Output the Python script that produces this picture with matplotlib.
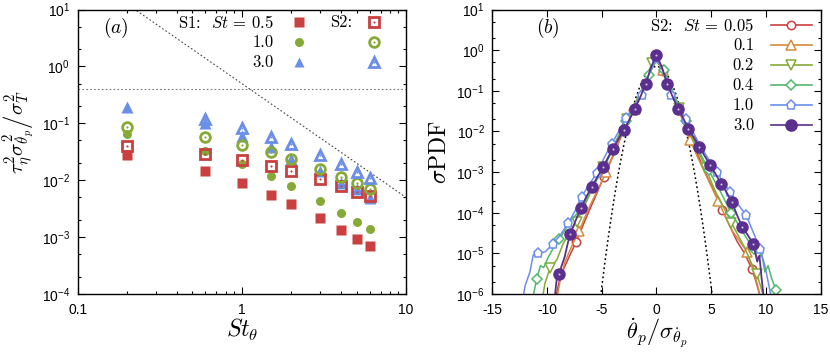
import numpy as np
import matplotlib
matplotlib.use("Agg")
import matplotlib.pyplot as plt
from matplotlib.ticker import LogLocator, MultipleLocator, NullFormatter, FuncFormatter

plt.rcParams["font.family"] = "sans-serif"
plt.rcParams["font.sans-serif"] = ["Liberation Sans", "DejaVu Sans"]
plt.rcParams["mathtext.fontset"] = "cm"

# ── Panel (a): rotational acceleration variance vs St_theta ───────────────────
ST_THETA = [0.2, 0.6, 1.0, 1.5, 2.0, 3.0, 4.0, 5.0, 6.0]

S1_ST05 = [0.028, 0.0143, 0.0089, 0.0056, 0.0038, 0.00214, 0.00135, 0.00093, 0.00069]
S1_ST10 = [0.066, 0.033, 0.019, 0.0118, 0.0080, 0.0043, 0.0027, 0.00186, 0.00137]
S1_ST30 = [0.19, 0.10, 0.060, 0.039, 0.024, 0.0148, 0.0088, 0.0070, 0.0048]

S2_ST05 = [0.040, 0.029, 0.0226, 0.0177, 0.0143, 0.0105, 0.0080, 0.0063, 0.0053]
S2_ST10 = [0.086, 0.058, 0.042, 0.031, 0.0235, 0.0159, 0.0115, 0.0091, 0.0070]
S2_ST30 = [np.nan, 0.117, 0.083, 0.057, 0.043, 0.0277, 0.019, 0.014, 0.011]

# reference lines
REF_LEVEL = 0.4
REF_SLOPE_X = [0.2, 10.0]
REF_SLOPE_Y = [12.5, 0.005]

# ── Panel (b): PDFs of the normalised rotation rate, case S2 ──────────────────
ST005_X = [-9.2, -8.9, -8.6, -8.0, -7.35, -6.7, -6.1, -5.45, -4.83, -4.15, -3.5,
           -2.8, -2.1, -1.45, -0.75, -0.1, 0.6, 1.25, 1.9, 2.55, 3.2, 3.9, 4.6,
           5.3, 6.0, 6.65, 7.35, 8.05, 8.7, 9.1, 9.5]
ST005_Y = [8e-7, 2.0e-6, 3.5e-6, 8e-6, 1.9e-5, 5.0e-5, 1.2e-4, 3.0e-4, 7.4e-4,
           2.0e-3, 5.0e-3, 1.4e-2, 3.4e-2, 7.4e-2, 0.22, 0.63, 0.31, 0.10, 0.040,
           0.017, 6.3e-3, 2.2e-3, 8.0e-4, 3.2e-4, 1.2e-4, 5.0e-5, 2.0e-5, 1.0e-5,
           4.2e-6, 2.0e-6, 8e-7]
ST005_MARK = list(range(4, 29, 4))

ST01_X = [-9.1, -8.75, -8.35, -7.7, -7.08, -6.45, -5.85, -5.2, -4.6, -3.95, -3.3,
          -2.65, -2.0, -1.35, -0.7, -0.05, 0.55, 1.2, 1.85, 2.45, 3.08, 3.7, 4.35,
          5.0, 5.65, 6.3, 6.95, 7.6, 8.28, 8.8, 9.2, 9.5]
ST01_Y = [8e-7, 2.5e-6, 6.3e-6, 1.6e-5, 3.5e-5, 8.9e-5, 2.0e-4, 4.5e-4, 1.0e-3,
          2.5e-3, 7.1e-3, 1.66e-2, 3.5e-2, 8.5e-2, 0.25, 0.60, 0.32, 0.11, 0.043,
          0.017, 6.2e-3, 2.5e-3, 1.05e-3, 4.5e-4, 1.9e-4, 8.0e-5, 3.5e-5, 2.0e-5,
          1.1e-5, 4.0e-6, 1.8e-6, 8e-7]
ST01_MARK = list(range(4, 29, 4))

ST02_X = [-10.4, -10.2, -9.73, -9.1, -8.5, -7.9, -7.3, -6.7, -6.1, -5.5, -4.9,
          -4.35, -3.8, -3.25, -2.7, -2.1, -1.55, -1.0, -0.44, 0.2, 0.85, 1.5, 2.1,
          2.7, 3.3, 3.9, 4.5, 5.1, 5.7, 6.3, 6.85, 7.45, 8.05, 8.6, 9.16, 9.5, 9.8]
ST02_Y = [8e-7, 1.8e-6, 4.3e-6, 7.0e-6, 1.8e-5, 3.2e-5, 6.0e-5, 1.26e-4, 2.8e-4,
          6.3e-4, 1.3e-3, 2.5e-3, 5.2e-3, 1.05e-2, 2.0e-2, 4.2e-2, 8.3e-2, 0.166,
          0.49, 0.50, 0.19, 0.079, 0.038, 0.0166, 7.1e-3, 2.8e-3, 1.26e-3, 5.0e-4,
          2.2e-4, 1.1e-4, 5.6e-5, 2.8e-5, 1.4e-5, 6.3e-6, 3.1e-6, 1.6e-6, 8e-7]
ST02_MARK = list(range(2, 35, 4))

ST04_X = [-11.3, -10.95, -10.6, -10.3, -9.9, -9.4, -8.88, -7.85, -6.83, -5.8, -4.8,
          -3.75, -2.75, -1.7, -0.7, 0.0, 0.67, 1.7, 2.72, 3.75, 4.77, 5.8, 6.81,
          7.85, 8.87, 9.3, 9.6, 9.9, 10.2, 10.5, 10.92, 11.2]
ST04_Y = [8e-7, 2.3e-6, 5.0e-6, 4.5e-6, 7.9e-6, 1.4e-5, 2.2e-5, 6.3e-5, 1.3e-4,
          4.5e-4, 1.26e-3, 5.0e-3, 1.8e-2, 6.3e-2, 0.25, 0.56, 0.32, 0.071, 0.018,
          4.0e-3, 1.1e-3, 3.5e-4, 1.0e-4, 3.5e-5, 1.26e-5, 7.0e-6, 1.0e-5, 3.5e-6,
          5.0e-6, 2.5e-6, 1.26e-6, 8e-7]
ST04_MARK = [1, 6, 8, 10, 12, 14, 16, 18, 20, 22, 24, 30]

ST10_X = [-12.2, -12.0, -11.56, -11.26, -10.8, -10.15, -9.49, -8.8, -8.06, -7.45,
          -6.83, -6.15, -5.47, -4.8, -4.1, -3.4, -2.75, -2.05, -1.35, -0.7, 0.0,
          0.65, 1.33, 2.0, 2.7, 3.4, 4.1, 4.8, 5.5, 6.1, 6.72, 7.45, 8.18, 8.8,
          9.46, 9.9, 10.2, 10.5]
ST10_Y = [8e-7, 1.6e-6, 3.5e-6, 9.1e-6, 1.0e-5, 1.1e-5, 1.7e-5, 2.8e-5, 5.5e-5,
          1.1e-4, 2.5e-4, 5.0e-4, 9.3e-4, 2.2e-3, 5.0e-3, 1.05e-2, 2.2e-2, 4.3e-2,
          7.9e-2, 0.25, 0.63, 0.28, 7.9e-2, 4.2e-2, 2.0e-2, 8.9e-3, 4.0e-3, 2.0e-3,
          1.0e-3, 5.6e-4, 3.2e-4, 1.6e-4, 8.9e-5, 3.5e-5, 1.3e-5, 5.0e-6, 2.0e-6,
          8e-7]
ST10_MARK = list(range(4, 35, 2))

ST30_X = [-9.3, -9.1, -8.9, -8.4, -7.9, -7.4, -6.9, -6.4, -5.9, -5.4, -4.9, -4.45,
          -4.0, -3.5, -3.0, -2.5, -2.0, -1.5, -1.0, -0.5, 0.0, 0.5, 1.0, 1.5, 2.0,
          2.45, 2.9, 3.4, 3.9, 4.4, 4.9, 5.4, 5.9, 6.4, 6.9, 7.35, 7.85, 8.35, 8.85,
          9.2, 9.4, 9.6, 9.8]
ST30_Y = [8e-7, 2.5e-6, 3.2e-6, 8.0e-6, 3.0e-5, 6.3e-5, 1.3e-4, 2.5e-4, 4.4e-4,
          7.6e-4, 1.3e-3, 2.2e-3, 3.7e-3, 6.3e-3, 1.1e-2, 1.9e-2, 3.5e-2, 6.8e-2,
          0.145, 0.38, 0.76, 0.38, 0.145, 6.9e-2, 3.5e-2, 2.1e-2, 1.17e-2, 7.1e-3,
          4.2e-3, 2.5e-3, 1.5e-3, 9.0e-4, 5.1e-4, 3.2e-4, 1.8e-4, 8.9e-5, 4.4e-5,
          2.8e-5, 1.7e-5, 6.3e-6, 8.9e-6, 2.5e-6, 8e-7]
ST30_MARK = list(range(2, 39, 2))

PDF_LABELS = ["0.05", "0.1", "0.2", "0.4", "1.0", "3.0"]

# ── Colours / fonts ───────────────────────────────────────────────────────────
RED    = "#c8403f"
ORANGE = "#d68a3c"
OLIVE  = "#86aa38"
GREEN  = "#4fb86b"
BLUE   = "#6b8ee8"
PURPLE = "#5b2f8e"
SERIF  = "cmr10"


def log_label(v, pos):
    return r"$\mathregular{10^{%d}}$" % int(round(np.log10(v)))


def style_axes(ax):
    ax.tick_params(which="both", direction="in", top=True, right=True,
                   labelsize=10, width=0.8)
    ax.tick_params(which="major", length=5)
    ax.tick_params(which="minor", length=2.5)
    ax.tick_params(axis="x", pad=6.5)
    ax.tick_params(axis="y", pad=5.5)
    for sp in ax.spines.values():
        sp.set_linewidth(1.0)


def open_dot(ax, x, y, marker, color, ms, **kw):
    ax.plot(x, y, ls="none", marker=marker, ms=ms, mfc="none", mec=color,
            mew=2.0, **kw)
    ax.plot(x, y, ls="none", marker="o", ms=1.6, mfc=color, mec="none", **kw)


# ── Panel (a) ─────────────────────────────────────────────────────────────────

def draw_panel_a(ax):
    ax.set_xscale("log")
    ax.set_yscale("log")

    ax.axhline(REF_LEVEL, color="#777777", ls=(0, (1.5, 2)), lw=0.8)
    ax.plot(REF_SLOPE_X, REF_SLOPE_Y, color="#444444", ls=(0, (1.5, 2)), lw=0.8)

    ax.plot(ST_THETA, S1_ST05, ls="none", marker="s", ms=6.5, color=RED, mec="none")
    ax.plot(ST_THETA, S1_ST10, ls="none", marker="o", ms=6.5, color=OLIVE, mec="none")
    ax.plot(ST_THETA, S1_ST30, ls="none", marker="^", ms=8.5, color=BLUE, mec="none")

    open_dot(ax, ST_THETA, S2_ST05, "s", RED, 7.0)
    open_dot(ax, ST_THETA, S2_ST10, "o", OLIVE, 7.0)
    open_dot(ax, ST_THETA, S2_ST30, "^", BLUE, 7.5)

    # hand-placed legend block, gnuplot style
    rows = [0.956, 0.886, 0.815]
    ax.text(0.598, rows[0], r"S1:  $St\,=\,0.5$", transform=ax.transAxes,
            ha="right", va="center", fontsize=12, family=SERIF)
    ax.text(0.598, rows[1], "1.0", transform=ax.transAxes, ha="right",
            va="center", fontsize=12, family=SERIF)
    ax.text(0.598, rows[2], "3.0", transform=ax.transAxes, ha="right",
            va="center", fontsize=12, family=SERIF)
    ax.text(0.836, rows[0], "S2:", transform=ax.transAxes,
            ha="right", va="center", fontsize=12, family=SERIF)
    kw = dict(transform=ax.transAxes, clip_on=False)
    ax.plot([0.674], [rows[0]], ls="none", marker="s", ms=6.5, color=RED, mec="none", **kw)
    ax.plot([0.674], [rows[1]], ls="none", marker="o", ms=6.5, color=OLIVE, mec="none", **kw)
    ax.plot([0.674], [rows[2]], ls="none", marker="^", ms=7, color=BLUE, mec="none", **kw)
    open_dot(ax, [0.9025], [rows[0]], "s", RED, 7.0, **kw)
    open_dot(ax, [0.9025], [rows[1]], "o", OLIVE, 7.0, **kw)
    open_dot(ax, [0.9025], [rows[2]], "^", BLUE, 7.5, **kw)

    ax.text(0.117, 0.935, r"$\mathit{(a)}$", transform=ax.transAxes,
            ha="center", va="center", fontsize=14)

    ax.set_xlim(0.1, 10)
    ax.set_ylim(1e-4, 10)
    ax.xaxis.set_major_locator(LogLocator(base=10, numticks=10))
    ax.xaxis.set_minor_locator(LogLocator(base=10, subs=np.arange(2, 10), numticks=10))
    ax.xaxis.set_minor_formatter(NullFormatter())
    ax.xaxis.set_major_formatter(FuncFormatter(lambda v, p: "%g" % v))
    ax.yaxis.set_major_locator(LogLocator(base=10, numticks=10))
    ax.yaxis.set_minor_locator(LogLocator(base=10, subs=(2.0, 5.0), numticks=10))
    ax.yaxis.set_minor_formatter(NullFormatter())
    ax.yaxis.set_major_formatter(FuncFormatter(log_label))
    style_axes(ax)

    ax.set_xlabel(r"$St_\theta$", fontsize=17, labelpad=0)
    ax.set_ylabel(r"$\left.\tau_\eta^2\sigma^2_{\dot{\theta}_p}\right/\sigma_T^2$",
                  fontsize=15)
    ax.yaxis.set_label_coords(-0.125, 0.57)


# ── Panel (b) ─────────────────────────────────────────────────────────────────

def draw_panel_b(ax):
    ax.set_yscale("log")

    gx = np.linspace(-5.4, 5.4, 300)
    ax.plot(gx, np.exp(-gx ** 2 / 2) / np.sqrt(2 * np.pi), color="black",
            ls=(0, (1.2, 1.8)), lw=1.1, zorder=1)

    series = [
        (ST005_X, ST005_Y, ST005_MARK, RED,    "o", 6.0),
        (ST01_X,  ST01_Y,  ST01_MARK,  ORANGE, "^", 6.5),
        (ST02_X,  ST02_Y,  ST02_MARK,  OLIVE,  "v", 6.5),
        (ST04_X,  ST04_Y,  ST04_MARK,  GREEN,  "D", 5.0),
        (ST10_X,  ST10_Y,  ST10_MARK,  BLUE,   "p", 6.5),
    ]
    for x, y, mk, col, m, ms in series:
        ax.plot(x, y, color=col, lw=1.1, marker=m, ms=ms, mfc="white", mec=col,
                mew=1.1, markevery=mk, zorder=2)
    ax.plot(ST30_X, ST30_Y, color=PURPLE, lw=1.3, marker="o", ms=8, mfc=PURPLE,
            mec=PURPLE, markevery=ST30_MARK, zorder=3)
    ax.plot(ST30_X, ST30_Y, ls="none", marker="o", ms=1.5, mfc="#cfc3e0",
            mec="none", markevery=ST30_MARK, zorder=3)

    # legend block
    rows = [0.9455, 0.875, 0.805, 0.735, 0.664, 0.594]
    styles = [(RED, "o", 6.0, "white"), (ORANGE, "^", 6.5, "white"),
              (OLIVE, "v", 6.5, "white"), (GREEN, "D", 5.0, "white"),
              (BLUE, "p", 6.5, "white"), (PURPLE, "o", 8, PURPLE)]
    for i, (yy, lab) in enumerate(zip(rows, PDF_LABELS)):
        txt = r"S2:  $St\,=\,$" + lab if i == 0 else lab
        ax.text(0.797, yy, txt, transform=ax.transAxes, ha="right",
                va="center", fontsize=12, family=SERIF)
        col, m, ms, fc = styles[i]
        ax.plot([0.848, 0.973], [yy, yy], color=col, lw=1.2,
                transform=ax.transAxes, clip_on=False)
        ax.plot([0.91], [yy], ls="none", marker=m, ms=ms, mfc=fc, mec=col,
                mew=1.1, transform=ax.transAxes, clip_on=False)

    ax.text(0.168, 0.935, r"$\mathit{(b)}$", transform=ax.transAxes,
            ha="center", va="center", fontsize=14)

    ax.set_xlim(-15, 15)
    ax.set_ylim(1e-6, 10)
    ax.xaxis.set_major_locator(MultipleLocator(5))
    ax.xaxis.set_major_formatter(FuncFormatter(lambda v, p: "%d" % v))
    ax.yaxis.set_major_locator(LogLocator(base=10, numticks=12))
    ax.yaxis.set_minor_locator(LogLocator(base=10, subs=(2.0, 5.0), numticks=12))
    ax.yaxis.set_minor_formatter(NullFormatter())
    ax.yaxis.set_major_formatter(FuncFormatter(log_label))
    style_axes(ax)

    ax.set_xlabel(r"$\left.\dot{\theta}_p\right/\sigma_{\dot{\theta}_p}$",
                  fontsize=16, labelpad=0)
    ax.set_ylabel(r"$\sigma$PDF", fontsize=17, labelpad=4, family=SERIF)


def run():
    fig = plt.figure(figsize=(8.3, 3.53), dpi=100)
    ax_a = fig.add_axes([0.0936, 0.167, 0.3955, 0.806])
    ax_b = fig.add_axes([0.5931, 0.167, 0.3957, 0.806])
    draw_panel_a(ax_a)
    draw_panel_b(ax_b)
    fig.savefig("out.png", dpi=100)
    plt.close(fig)


if __name__ == "__main__":
    run()
